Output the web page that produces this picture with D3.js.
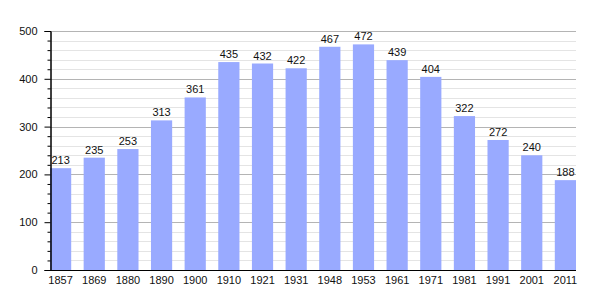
<!DOCTYPE html>
<html>
<head>
<meta charset="utf-8">
<script src="https://cdn.jsdelivr.net/npm/d3@7"></script>
<style>
  body { margin: 0; background: #fff; }
  text { font-family: "Liberation Sans", Arial, sans-serif; }
</style>
</head>
<body>
<div id="chart"></div>
<script>
// population by census year
var years = ["1857", "1869", "1880", "1890", "1900", "1910", "1921", "1931",
             "1948", "1953", "1961", "1971", "1981", "1991", "2001", "2011"];
var population = [213, 235, 253, 313, 361, 435, 432, 422,
                  467, 472, 439, 404, 322, 272, 240, 188];
var majorTicks = [0, 100, 200, 300, 400, 500];

var width = 605, height = 300;
var plotLeft = 50, plotRight = 576, plotTop = 31, plotBottom = 270;

var svg = d3.select("#chart").append("svg")
    .attr("width", width)
    .attr("height", height);

var x = d3.scaleBand()
    .domain(years)
    .range([plotLeft, plotRight])
    .paddingInner(0.37)
    .paddingOuter(0);

var y = d3.scaleLinear()
    .domain([0, 500])
    .range([plotBottom, plotTop]);

// minor grid every 20
var minor = d3.range(0, 501, 20).filter(function(v) { return v % 100 !== 0; });
svg.append("g").selectAll("line")
    .data(minor)
    .join("line")
    .attr("x1", plotLeft).attr("x2", plotRight)
    .attr("y1", function(d) { return Math.round(y(d)) + 0.5; })
    .attr("y2", function(d) { return Math.round(y(d)) + 0.5; })
    .attr("stroke", "#e4e4e4");

// major grid
svg.append("g").selectAll("line")
    .data(majorTicks.slice(1))
    .join("line")
    .attr("x1", plotLeft).attr("x2", plotRight)
    .attr("y1", function(d) { return Math.round(y(d)) + 0.5; })
    .attr("y2", function(d) { return Math.round(y(d)) + 0.5; })
    .attr("stroke", "#b4b4b4");

// bars
svg.append("g").selectAll("rect")
    .data(population)
    .join("rect")
    .attr("x", function(d, i) { return x(years[i]); })
    .attr("width", x.bandwidth())
    .attr("y", function(d) { return y(d); })
    .attr("height", function(d) { return y(0) - y(d); })
    .attr("fill", "#99aaff");

// value labels
svg.append("g").selectAll("text")
    .data(population)
    .join("text")
    .attr("x", function(d, i) { return x(years[i]) + x.bandwidth() / 2; })
    .attr("y", function(d) { return y(d) - 4; })
    .attr("text-anchor", "middle")
    .attr("font-size", 11)
    .attr("fill", "#111")
    .text(function(d) { return d; });

// y axis with minor ticks
var yAxis = svg.append("g").attr("transform", "translate(" + (plotLeft + 0.5) + ",0)");
yAxis.call(d3.axisLeft(y).tickValues(minor).tickSize(3).tickFormat(""));
yAxis.append("g").call(d3.axisLeft(y).tickValues(majorTicks).tickSize(6).tickPadding(7));
yAxis.selectAll(".domain").attr("stroke", "#000");
yAxis.selectAll("text").attr("font-size", 11).attr("fill", "#111")
    .style("font-family", "'Liberation Sans', Arial, sans-serif");

// x axis
var xAxis = svg.append("g").attr("transform", "translate(0," + (plotBottom + 0.5) + ")")
    .call(d3.axisBottom(x).tickSize(0).tickPadding(6));
xAxis.select(".domain").attr("stroke", "#000").attr("d", "M" + plotLeft + ",0H" + plotRight);
xAxis.selectAll("text").attr("font-size", 11).attr("fill", "#111")
    .style("font-family", "'Liberation Sans', Arial, sans-serif");
</script>
</body>
</html>
